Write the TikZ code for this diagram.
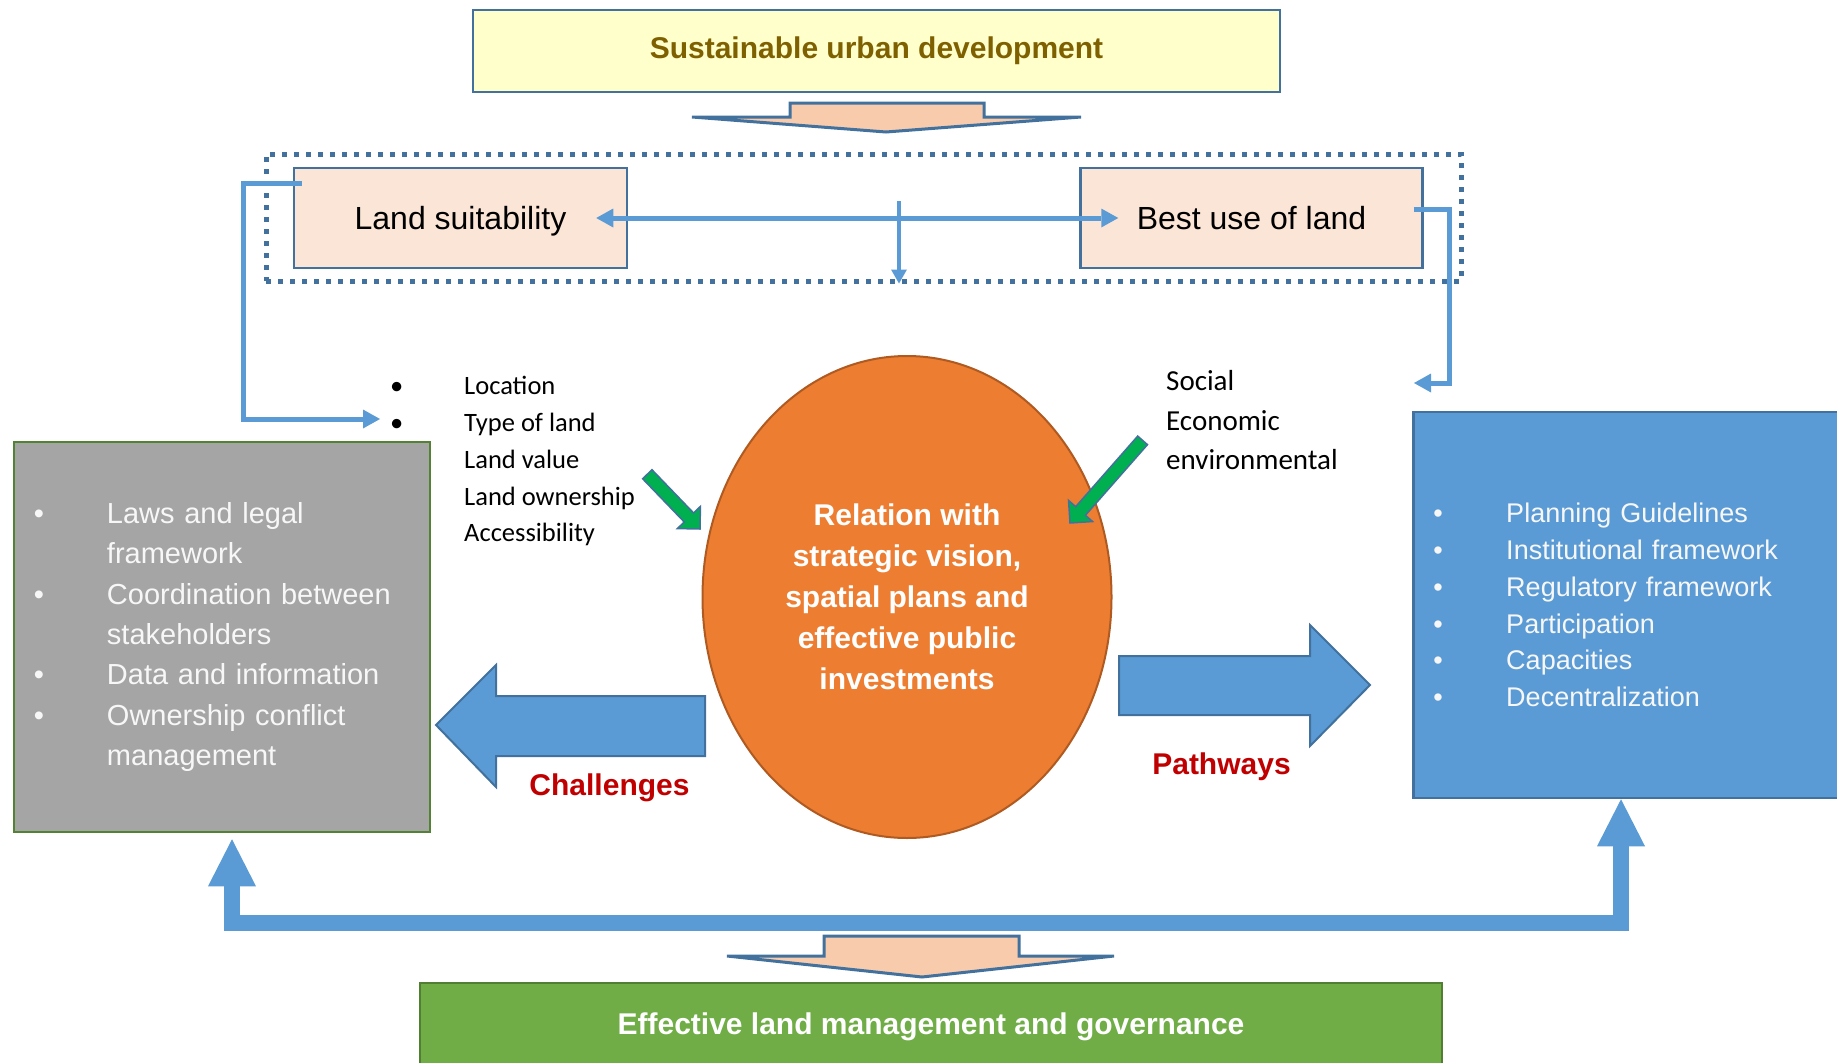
\documentclass[tikz,border=0pt]{standalone}
\usepackage{fontspec}
\setmainfont{Liberation Sans}
\newfontfamily\calibrifont{Carlito}
\usetikzlibrary{shapes.geometric,arrows.meta,calc}
\definecolor{frameblue}{HTML}{41719C}
\definecolor{lightblue}{HTML}{5B9BD5}
\definecolor{topfill}{HTML}{FFFFCC}
\definecolor{toptext}{HTML}{7F6000}
\definecolor{peach}{HTML}{F8CBAD}
\definecolor{landfill}{HTML}{FBE5D6}
\definecolor{orangefill}{HTML}{ED7D31}
\definecolor{orangeline}{HTML}{AE5A21}
\definecolor{greyfill}{HTML}{A5A5A5}
\definecolor{greyline}{HTML}{548235}
\definecolor{greenfill}{HTML}{70AD47}
\definecolor{greenline}{HTML}{507E32}
\definecolor{arrowgreen}{HTML}{00B050}
\definecolor{darkred}{HTML}{C00000}
\definecolor{paletext}{HTML}{F7F7F7}
\newcommand{\bulletbox}[1]{\makebox[#1][l]{•}}
\begin{document}
\begin{tikzpicture}[x=1pt,y=-1pt,
  box/.style={rectangle, draw=frameblue, line width=2.5pt, inner sep=0pt},
  landbox/.style={box, fill=landfill, minimum height=100pt, text height=23pt, text depth=0pt,
    font=\fontsize{32}{38}\selectfont},
  peacharrow/.style={draw=frameblue, fill=peach, line width=3pt, line join=miter},
  bluearrow/.style={draw=frameblue, fill=lightblue, line width=2pt, line join=miter},
  greenarrow/.style={draw=frameblue, fill=arrowgreen, line width=1.5pt, line join=miter},
  thinconn/.style={draw=lightblue, line width=5pt, line join=miter},
  busconn/.style={draw=lightblue, line width=16pt, line join=miter},
  listtext/.style={anchor=base west, inner sep=0pt, font=\calibrifont\fontsize{26.5}{32}\selectfont},
  sidetext/.style={anchor=base west, inner sep=0pt, font=\calibrifont\fontsize{29}{35}\selectfont},
  redlabel/.style={anchor=base, inner sep=0pt, text=darkred, font=\bfseries\fontsize{30}{36}\selectfont}
]
\useasboundingbox (0,0) rectangle (1837,1063);
\clip (0,0) rectangle (1837,1063);

% top box
\node[box, fill=topfill, minimum width=807pt, minimum height=82pt, text=toptext,
  font=\bfseries\fontsize{30}{36}\selectfont] (sud) at (876.5,51) {Sustainable urban development};
\draw[peacharrow] (790,103) -- (984,103) -- (984,117) -- (1081,117) -- (886,132) -- (692,117) -- (790,117) -- cycle;

% dotted frame
\node[draw=frameblue, line width=5pt, dash pattern=on 5pt off 7pt, minimum width=1195pt,
  minimum height=127pt, inner sep=0pt] (frame) at (863.5,217.5) {};

% land boxes
\node[landbox, minimum width=333pt] (ls) at (460.5,218) {Land suitability};
\node[landbox, minimum width=342pt] (bu) at (1251.5,218) {Best use of land};

% connectors in the frame
\draw[thinconn, {Triangle[length=17pt,width=19pt,line width=0pt]}-{Triangle[length=17pt,width=19pt,line width=0pt]}]
  ([xshift=-32pt]ls.east) -- ([xshift=39pt]bu.west);
\coordinate (vtop) at (899,201);
\draw[draw=lightblue, line width=4pt, -{Triangle[length=14pt,width=16pt,line width=0pt]}] (vtop) -- (vtop |- frame.south);

\coordinate (lsEnd) at (380,419);
\draw[thinconn, -{Triangle[length=17pt,width=19pt,line width=0pt]}]
  ([xshift=9pt,yshift=-17pt]ls.north west) -- ++(-58,0) |- (lsEnd);
\coordinate (buEnd) at (1414,383);
\draw[thinconn, -{Triangle[length=17pt,width=19pt,line width=0pt]}]
  ([xshift=-10pt,yshift=-43pt]bu.north east) -- ++(36,0) |- (buEnd);

% left list
\node[listtext] (l1) at (390,394) {\bulletbox{74pt}Location};
\node[listtext] (l2) at (390,431) {\bulletbox{74pt}Type of land};
\node[listtext] (l3) at (464,468) {Land value};
\node[listtext] (l4) at (464,505) {Land ownership};
\node[listtext] (l5) at (464,541) {Accessibility};

% right list
\node[sidetext] (r1) at (1166,390) {Social};
\node[sidetext] (r2) at (1166,430) {Economic};
\node[sidetext] (r3) at (1166,469) {environmental};

% central ellipse
\node[ellipse, draw=orangeline, line width=2pt, fill=orangefill, minimum width=409pt, minimum height=482pt,
  inner sep=0pt, text=white, align=center, font=\bfseries\fontsize{30}{41}\selectfont] (core) at (907,597)
  {Relation with\\strategic vision,\\spatial plans and\\effective public\\investments};

% green arrows
\begin{scope}[shift={(700,529)}, rotate=-46.1]
  \draw[greenarrow] (0,0) -- (-16,16) -- (-16,6.5) -- (-76,6.5) -- (-76,-6.5) -- (-16,-6.5) -- (-16,-16) -- cycle;
\end{scope}
\begin{scope}[shift={(1070,523)}, rotate=-131.3]
  \draw[greenarrow] (0,0) -- (-16,16) -- (-16,6.5) -- (-110,6.5) -- (-110,-6.5) -- (-16,-6.5) -- (-16,-16) -- cycle;
\end{scope}

% grey box
\node[rectangle, draw=greyline, line width=2.5pt, fill=greyfill, minimum width=416pt, minimum height=390pt,
  inner xsep=20pt, inner ysep=0pt, text width=376pt, align=left, text=paletext,
  font=\fontsize{29}{40.3}\selectfont] (gbox) at (222,637)
  {\bulletbox{73pt}Laws and legal\\\hspace*{73pt}framework\\
   \bulletbox{73pt}Coordination between\\\hspace*{73pt}stakeholders\\
   \bulletbox{73pt}Data and information\\
   \bulletbox{73pt}Ownership conflict\\\hspace*{73pt}management};

% blue box
\node[rectangle, draw=frameblue, line width=2.5pt, fill=lightblue, minimum width=438pt, minimum height=386pt,
  inner xsep=20pt, inner ysep=0pt, text width=398pt, align=left, text=paletext, anchor=west,
  font=\fontsize{27}{36.8}\selectfont] (bbox) at (1412,605)
  {\bulletbox{73pt}Planning Guidelines\\
   \bulletbox{73pt}Institutional framework\\
   \bulletbox{73pt}Regulatory framework\\
   \bulletbox{73pt}Participation\\
   \bulletbox{73pt}Capacities\\
   \bulletbox{73pt}Decentralization};

% block arrows
\draw[bluearrow] (436,725) -- (496,665) -- (496,696) -- (705,696) -- (705,756) -- (496,756) -- (496,787) -- cycle;
\draw[bluearrow] (1119,656) -- (1310,656) -- (1310,625) -- (1370,685) -- (1310,746) -- (1310,715) -- (1119,715) -- cycle;
\node[redlabel] (chal) at (609.5,795) {Challenges};
\node[redlabel] (path) at (1221.5,774) {Pathways};

% bottom bus connector
\coordinate (bus) at (0,923);
\coordinate (gA) at ([xshift=10pt,yshift=-6pt]gbox.south);
\coordinate (bA) at ([xshift=209pt]bbox.south west);
\draw[busconn, {Triangle[length=47pt,width=48pt,line width=0pt]}-{Triangle[length=47pt,width=48pt,line width=0pt]}]
  (gA) -- (gA |- bus) -- (bA |- bus) -- (bA);

% bottom arrow and box
\draw[peacharrow] (824,936) -- (1019,936) -- (1019,956) -- (1114,956) -- (922,977) -- (727,956) -- (824,956) -- cycle;
\node[rectangle, draw=greenline, line width=2.5pt, fill=greenfill, minimum width=1022pt, minimum height=88pt,
  inner sep=0pt, text=white, font=\bfseries\fontsize{30}{36}\selectfont] (elm) at (931,1027)
  {Effective land management and governance};
\end{tikzpicture}
\end{document}
